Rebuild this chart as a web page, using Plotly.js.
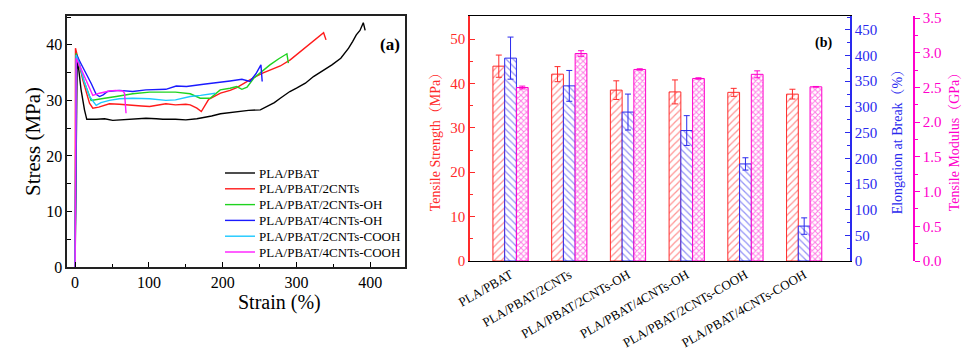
<!DOCTYPE html>
<html><head><meta charset="utf-8">
<script src="https://cdn.plot.ly/plotly-3.0.1.min.js"></script>
<style>html,body{margin:0;padding:0;background:#fff}#chart{width:978px;height:352px}</style>
</head><body><div id="chart"></div>
<script>
// ---- Panel (a): stress-strain curves ----
const seriesNames = ["PLA/PBAT","PLA/PBAT/2CNTs","PLA/PBAT/2CNTs-OH","PLA/PBAT/4CNTs-OH","PLA/PBAT/2CNTs-COOH","PLA/PBAT/4CNTs-COOH"];
const strainPBAT = [0,1.5,2.7,5,8,12.7,15.8,29,40,51,62,78,96,110,119,136,150,165,174,185,197,210,219,235,251,260,270,278,291,300,312,323,335,348,360,370.6,376,381,386,390.5,393];
const stressPBAT = [0,20,37.0,35.5,32,28.3,26.6,26.6,26.7,26.4,26.5,26.6,26.8,26.7,26.6,26.6,26.5,26.7,26.9,27.2,27.6,27.8,28.0,28.2,28.3,28.9,29.6,30.4,31.6,32.2,33.1,34.3,35.3,36.4,37.6,39.4,40.6,41.8,42.6,44.0,42.6];
const strain2CNT = [0,0.3,0.5,4,10.4,19.5,24,32,46.5,60,78,90,101,112,123,136,150,156,165,171,174,181,197,210,219,230,242,254,264,278,291.5,305,320,336.7,340];
const stress2CNT = [0,25,39.4,37.5,33.7,29.5,28.6,28.8,29.4,29.3,29.2,29.0,28.9,29.2,29.4,29.2,29.3,29.2,28.6,28.0,28.6,30.2,31.3,31.8,32.3,33.2,34.1,34.9,35.5,36.2,37.3,38.8,40.4,42.2,40.9];
const strain2OH = [0,0.8,1.4,5,12,21.7,28.5,40,55.6,78,101,120,136,156,169.5,183,196.6,210,219,226,233,242,253,264,276,287,289];
const stress2OH = [0,20,38.5,36.8,33.5,30.0,30.1,30.4,30.7,31.2,31.5,31.5,31.5,31.2,30.4,30.4,31.9,32.2,32.5,32.0,32.4,34.0,35.2,36.4,37.5,38.4,36.7];
const strain4OH = [0,1,2,8,15,22,28.5,33,38,44,60,78,96,110,123,137,151,174,196.6,210,226,237,245,251.8,253.5];
const stress4OH = [0,20,38.2,36.6,34.9,33.0,31.1,30.7,31.0,31.6,31.8,31.6,31.9,31.9,32.0,32.6,32.5,32.9,33.2,33.5,33.8,33.4,34.8,36.4,33.4];
const strain2COOH = [0,0.8,1.4,6,12,19.5,28.5,35,46.5,60,78,101,123,136,156,170,183,190];
const stress2COOH = [0,18,38.2,36.5,33.5,30.7,29.1,29.6,30.0,30.3,30.4,30.3,30.0,30.1,30.7,30.9,31.1,31.3];
const strain4COOH = [0,0.6,1.4,7,15,24,33,46.5,55,64.6,67,69];
const stress4COOH = [0,15,37.6,36.0,33.7,30.9,31.3,31.7,31.8,31.7,31.3,27.7];
const lineColors = ["#000000","#ff1a1a","#1fd31f","#1a1aff","#1ac8ff","#ff1aff"];

// ---- Panel (b): bar chart ----
const categories = ["PLA/PBAT","PLA/PBAT/2CNTs","PLA/PBAT/2CNTs-OH","PLA/PBAT/4CNTs-OH","PLA/PBAT/2CNTs-COOH","PLA/PBAT/4CNTs-COOH"];
const tensileStrength = [43.9,42.1,38.5,38.1,38.0,37.6];
const tensileStrengthErr = [2.5,1.7,2.1,2.7,0.9,1.1];
const elongation = [395,341,290,254,189,68];
const elongationErr = [41,30,35,29,12,16];
const modulus = [2.50,2.99,2.76,2.63,2.69,2.51];
const modulusErr = [0.02,0.04,0.01,0.01,0.05,0.005];

const serif = "Liberation Serif, Times New Roman, Noto Serif CJK SC, Noto Sans CJK SC, serif";
const RED = "#ff2a2a", BLUE = "#2a2aee", PINK = "#ff00cc";

const curveX = [strainPBAT,strain2CNT,strain2OH,strain4OH,strain2COOH,strain4COOH];
const curveY = [stressPBAT,stress2CNT,stress2OH,stress4OH,stress2COOH,stress4COOH];
const traces = [];
for (let i=0;i<seriesNames.length;i++){
  traces.push({type:'scatter',mode:'lines',name:seriesNames[i],x:curveX[i],y:curveY[i],
    xaxis:'x',yaxis:'y',line:{color:lineColors[i],width:1.4},showlegend:false});
}
const idx = categories.map((c,i)=>i);
traces.push({type:'bar',x:idx,y:tensileStrength,xaxis:'x2',yaxis:'y3',width:0.2,offset:-0.3,showlegend:false,
  marker:{color:'#ffffff',line:{color:RED,width:1},pattern:{shape:'/',fgcolor:RED,bgcolor:'#ffffff',size:5,solidity:0.25,fillmode:'overlay'}},
  error_y:{type:'data',array:tensileStrengthErr,color:RED,thickness:1,width:3}});
traces.push({type:'bar',x:idx,y:elongation,xaxis:'x2',yaxis:'y4',width:0.2,offset:-0.1,showlegend:false,
  marker:{color:'#ffffff',line:{color:BLUE,width:1},pattern:{shape:'\\',fgcolor:BLUE,bgcolor:'#ffffff',size:5,solidity:0.25,fillmode:'overlay'}},
  error_y:{type:'data',array:elongationErr,color:BLUE,thickness:1,width:3}});
traces.push({type:'bar',x:idx,y:modulus,xaxis:'x2',yaxis:'y5',width:0.2,offset:0.1,showlegend:false,
  marker:{color:'#ffffff',line:{color:PINK,width:1},pattern:{shape:'x',fgcolor:PINK,bgcolor:'#ffffff',size:4,solidity:0.45,fillmode:'overlay'}},
  error_y:{type:'data',array:modulusErr,color:PINK,thickness:1,width:3}});

// manual legend (layout decoration) for panel (a)
const legendShapes = [], legendAnn = [];
const legTop = 173, legStep = 15.8;
seriesNames.forEach((n,i)=>{
  const py = legTop + i*legStep;
  legendShapes.push({type:'line',xref:'paper',yref:'paper',x0:225/978,x1:255/978,y0:1-py/352,y1:1-py/352,
    line:{color:lineColors[i],width:1.4}});
  legendAnn.push({text:n,xref:'paper',yref:'paper',x:257/978,y:1-py/352,xanchor:'left',yanchor:'middle',
    showarrow:false,font:{family:serif,size:13,color:'#000'}});
});

const tickF = (c,s)=>({family:serif,size:s,color:c});
const layout = {
  width:978,height:352,margin:{l:0,r:0,t:0,b:0},paper_bgcolor:'#fff',plot_bgcolor:'#fff',
  font:{family:serif,color:'#000'},barmode:'overlay',showlegend:false,
  xaxis:{domain:[0.0685,0.4141],anchor:'y',range:[-11,447],tickvals:[0,100,200,300,400],
    ticks:'inside',ticklen:5,tickcolor:'#000',minor:{dtick:50,tick0:0,ticks:'inside',ticklen:3,tickcolor:'#000'},
    showline:true,mirror:true,linecolor:'#222',linewidth:1.6,showgrid:false,zeroline:false,
    tickfont:tickF('#000',16)},
  yaxis:{domain:[0.2415,0.9545],anchor:'x',range:[0,45.2],dtick:10,
    ticks:'inside',ticklen:5,tickcolor:'#000',minor:{dtick:5,ticks:'inside',ticklen:4,tickcolor:'#000'},
    showline:true,mirror:true,linecolor:'#222',linewidth:1.6,showgrid:false,zeroline:false,
    tickfont:tickF('#000',16),title:{text:'Stress (MPa)',font:{family:serif,size:21},standoff:0}},
  xaxis2:{domain:[0.4806,0.8691],anchor:'y3',range:[-0.69,5.78],tickvals:idx,ticktext:categories,tickangle:-30,
    ticks:'',showline:true,mirror:true,linecolor:'#000',linewidth:1.4,showgrid:false,zeroline:false,
    tickfont:tickF('#000',13)},
  yaxis3:{domain:[0.2585,0.9545],anchor:'x2',range:[0,55.2],dtick:10,
    ticks:'inside',ticklen:5,tickcolor:RED,minor:{dtick:5,ticks:'inside',ticklen:3,tickcolor:RED},
    showline:true,linecolor:RED,linewidth:1.8,showgrid:false,zeroline:false,
    tickfont:tickF(RED,15),title:{text:'Tensile Strength（MPa）',font:{family:serif,size:14,color:RED},standoff:6}},
  yaxis4:{overlaying:'y3',side:'right',anchor:'x2',range:[0,477],dtick:50,
    ticks:'inside',ticklen:5,tickcolor:BLUE,minor:{dtick:25,ticks:'inside',ticklen:3,tickcolor:BLUE},
    showline:true,linecolor:BLUE,linewidth:1.8,showgrid:false,zeroline:false,
    tickfont:tickF(BLUE,15),title:{text:'Elongation at Break（%）',font:{family:serif,size:14,color:BLUE},standoff:16}},
  yaxis5:{overlaying:'y3',side:'right',anchor:'free',position:0.9335,range:[0,3.53],dtick:0.5,tickformat:'.1f',
    ticks:'outside',ticklen:5,tickcolor:PINK,minor:{dtick:0.25,ticks:'outside',ticklen:3,tickcolor:PINK},
    showline:true,linecolor:PINK,linewidth:1.8,showgrid:false,zeroline:false,
    tickfont:tickF(PINK,15),title:{text:'Tensile Modulus（GPa）',font:{family:serif,size:14,color:PINK},standoff:9}},
  shapes:legendShapes,
  annotations:[
    {text:'Strain (%)',xref:'paper',yref:'paper',x:(67+405)/2/978,y:1-302/352,yanchor:'middle',showarrow:false,font:{family:serif,size:20}},
    {text:'<b>(a)</b>',xref:'paper',yref:'paper',x:0.399,y:0.906,showarrow:false,font:{family:serif,size:17}},
    {text:'<b>(b)</b>',xref:'paper',yref:'paper',x:0.853,y:0.906,showarrow:false,font:{family:serif,size:14}}
  ].concat(legendAnn)
};
Plotly.newPlot('chart',traces,layout,{staticPlot:true,displayModeBar:false});
</script></body></html>
